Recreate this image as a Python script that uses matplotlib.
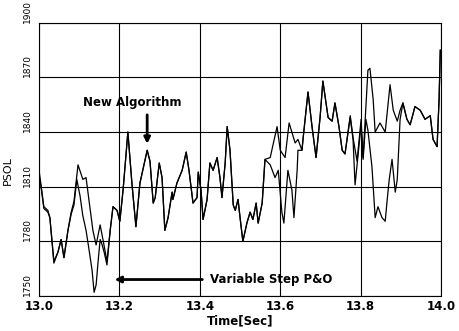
import matplotlib
matplotlib.use("Agg")
import matplotlib.pyplot as plt
import matplotlib.transforms as mtransforms

# New algorithm trace
time_new = [13.000, 13.005, 13.012, 13.022, 13.027, 13.037, 13.047, 13.055, 13.062, 13.072,
            13.080, 13.087, 13.097, 13.109, 13.117, 13.124, 13.134, 13.142, 13.152, 13.159,
            13.169, 13.177, 13.184, 13.194, 13.201, 13.209, 13.221, 13.231, 13.241, 13.251,
            13.269, 13.276, 13.284, 13.289, 13.299, 13.306, 13.313, 13.321, 13.331, 13.333,
            13.343, 13.356, 13.366, 13.373, 13.383, 13.393, 13.396, 13.403, 13.408, 13.418,
            13.425, 13.433, 13.443, 13.450, 13.455, 13.463, 13.468, 13.475, 13.483, 13.488,
            13.495, 13.500, 13.507, 13.517, 13.525, 13.532, 13.540, 13.545, 13.555, 13.562,
            13.575, 13.592, 13.600, 13.612, 13.622, 13.637, 13.644, 13.654, 13.657, 13.669,
            13.679, 13.689, 13.699, 13.706, 13.719, 13.729, 13.736, 13.746, 13.754, 13.761,
            13.774, 13.781, 13.791, 13.801, 13.806, 13.818, 13.823, 13.831, 13.836, 13.848,
            13.861, 13.873, 13.881, 13.891, 13.898, 13.905, 13.915, 13.923, 13.935, 13.948,
            13.960, 13.973, 13.980, 13.990, 13.995, 13.998]
psol_new = [1819, 1811, 1799, 1797, 1793, 1769, 1774, 1781, 1771, 1786,
            1796, 1802, 1822, 1814, 1815, 1803, 1786, 1778, 1789, 1781,
            1769, 1786, 1799, 1797, 1791, 1808, 1840, 1812, 1788, 1812,
            1830, 1824, 1801, 1804, 1823, 1815, 1786, 1793, 1807, 1803,
            1812, 1819, 1829, 1819, 1801, 1804, 1818, 1808, 1792, 1803,
            1823, 1819, 1826, 1815, 1804, 1823, 1843, 1830, 1800, 1797,
            1803, 1793, 1780, 1790, 1796, 1792, 1801, 1790, 1801, 1825,
            1826, 1843, 1830, 1826, 1845, 1834, 1836, 1830, 1837, 1862,
            1843, 1826, 1848, 1868, 1848, 1846, 1856, 1843, 1830, 1828,
            1849, 1837, 1824, 1847, 1826, 1874, 1875, 1858, 1840, 1845,
            1840, 1866, 1852, 1846, 1852, 1856, 1847, 1844, 1854, 1852,
            1847, 1849, 1836, 1832, 1858, 1885]

# Variable step P&O trace
time_pno = [13.000, 13.005, 13.012, 13.022, 13.027, 13.037, 13.047, 13.055, 13.062, 13.072,
            13.080, 13.087, 13.094, 13.102, 13.109, 13.117, 13.124, 13.132, 13.137, 13.142,
            13.147, 13.152, 13.157, 13.162, 13.169, 13.177, 13.184, 13.194, 13.201, 13.209,
            13.221, 13.231, 13.241, 13.251, 13.269, 13.276, 13.284, 13.289, 13.299, 13.306,
            13.313, 13.321, 13.331, 13.333, 13.343, 13.356, 13.366, 13.373, 13.383, 13.393,
            13.396, 13.403, 13.408, 13.418, 13.425, 13.433, 13.443, 13.450, 13.455, 13.463,
            13.468, 13.475, 13.483, 13.488, 13.495, 13.500, 13.507, 13.517, 13.525, 13.532,
            13.540, 13.545, 13.555, 13.562, 13.575, 13.587, 13.595, 13.604, 13.609, 13.619,
            13.629, 13.634, 13.642, 13.644, 13.654, 13.657, 13.669, 13.679, 13.689, 13.699,
            13.706, 13.719, 13.729, 13.736, 13.746, 13.754, 13.761, 13.774, 13.781, 13.786,
            13.791, 13.801, 13.806, 13.813, 13.818, 13.828, 13.836, 13.843, 13.853, 13.861,
            13.866, 13.871, 13.878, 13.886, 13.891, 13.898, 13.905, 13.915, 13.923, 13.935,
            13.948, 13.960, 13.973, 13.980, 13.990, 13.995, 13.998]
psol_pno = [1816, 1810, 1798, 1796, 1793, 1768, 1774, 1781, 1771, 1786,
            1795, 1800, 1814, 1805, 1794, 1786, 1776, 1764, 1752, 1756,
            1769, 1781, 1778, 1774, 1767, 1786, 1799, 1797, 1791, 1808,
            1840, 1812, 1788, 1812, 1830, 1824, 1801, 1804, 1823, 1815,
            1786, 1793, 1807, 1803, 1812, 1819, 1829, 1819, 1801, 1804,
            1818, 1808, 1792, 1803, 1823, 1819, 1826, 1815, 1804, 1823,
            1843, 1830, 1800, 1797, 1803, 1793, 1780, 1790, 1796, 1792,
            1801, 1790, 1801, 1825, 1822, 1815, 1819, 1796, 1790, 1819,
            1808, 1793, 1819, 1830, 1830, 1837, 1862, 1843, 1826, 1848,
            1868, 1848, 1846, 1856, 1843, 1830, 1828, 1848, 1836, 1811,
            1822, 1844, 1825, 1847, 1841, 1821, 1793, 1799, 1793, 1791,
            1803, 1814, 1825, 1807, 1814, 1847, 1856, 1847, 1844, 1854,
            1852, 1847, 1849, 1836, 1832, 1858, 1885]

x_ticks = [13.0, 13.2, 13.4, 13.6, 13.8, 14.0]
y_ticks = [1750, 1780, 1810, 1840, 1870, 1900]

fig = plt.figure(figsize=(4.59, 3.31), dpi=100)
ax = fig.add_axes([0.085, 0.106, 0.876, 0.825])

ax.plot(time_pno, psol_pno, color="black", lw=0.9, solid_joinstyle="round")
ax.plot(time_new, psol_new, color="black", lw=0.9, solid_joinstyle="round")

ax.set_xlim(13.0, 14.0)
ax.set_ylim(1750, 1900)
ax.set_xticks(x_ticks)
ax.set_yticks(y_ticks)
ax.set_xticklabels([f"{t:.1f}" for t in x_ticks], fontweight="bold", fontsize=8.5,
                   family="DejaVu Sans")
ax.set_yticklabels([str(v) for v in y_ticks], rotation=90, va="bottom", fontsize=6.5,
                   family="Liberation Sans Narrow")
# nudge the rotated labels so they end just below their grid line
shift = mtransforms.ScaledTranslation(0, -2 / 72, fig.dpi_scale_trans)
for lab in ax.get_yticklabels():
    lab.set_transform(lab.get_transform() + shift)
ax.tick_params(axis="x", length=0, pad=3)
ax.tick_params(axis="y", length=0, pad=5)
ax.grid(True, color="black", lw=0.8)
for s in ax.spines.values():
    s.set_linewidth(0.8)

ax.set_xlabel("Time[Sec]", fontweight="bold", fontsize=8.5, family="DejaVu Sans", labelpad=1)
ax.set_ylabel("PSOL", fontsize=8, family="Liberation Sans Narrow")
ax.yaxis.set_label_coords(-0.065, 0.46)

# annotations
ax.annotate("", xy=(13.269, 1832), xytext=(13.269, 1851),
            arrowprops=dict(arrowstyle="-|>", lw=2, color="black", mutation_scale=9))
ax.text(13.233, 1856, "New Algorithm", fontweight="bold", fontsize=8.5,
        family="DejaVu Sans", ha="center", va="center")
ax.annotate("", xy=(13.181, 1759), xytext=(13.413, 1759),
            arrowprops=dict(arrowstyle="-|>", lw=2, color="black", mutation_scale=9))
ax.text(13.425, 1759, "Variable Step P&O", fontweight="bold", fontsize=8.5,
        family="DejaVu Sans", ha="left", va="center")

fig.savefig("out.png", dpi=100)
